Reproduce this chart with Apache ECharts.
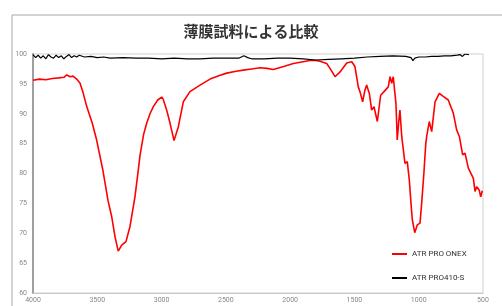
<!DOCTYPE html>
<html><head><meta charset="utf-8">
<script src="https://cdn.jsdelivr.net/npm/echarts@6/dist/echarts.min.js"></script>
<style>html,body{margin:0;padding:0;background:#fff}#c{width:502px;height:306px}</style>
</head><body><div id="c"></div>
<script>
const title = '薄膜試料による比較';
const seriesNames = ['ATR PRO ONEX', 'ATR PRO410-S'];
const xTicks = [4000, 3500, 3000, 2500, 2000, 1500, 1000, 500];
const yTicks = [60, 65, 70, 75, 80, 85, 90, 95, 100];

const wnRed = [4000,3950,3900,3850,3800,3760,3738,3710,3689,3660,3634,3610,3582,3540,3505,3456,3417,3388,3362,3337,3310,3277,3246,3207,3181,3168,3140,3116,3090,3064,3030,2999,2987,2960,2934,2903,2870,2831,2779,2701,2623,2550,2493,2420,2364,2350,2300,2234,2180,2131,2050,1975,1900,1846,1800,1768,1716,1690,1651,1612,1560,1521,1496,1470,1457,1436,1420,1405,1384,1366,1348,1322,1296,1270,1237,1223,1210,1198,1177,1167,1156,1146,1132,1107,1089,1073,1060,1050,1043,1031,1011,990,977,960,945,938,918,899,873,840,809,770,731,705,684,658,640,614,575,562,549,529,518,505];
const tRed = [95.6,95.8,95.7,95.9,96.0,96.1,96.5,96.2,96.3,95.8,95.1,93.5,91.2,88.5,85.6,80.5,75.5,72.8,69.4,67.0,68.0,68.6,71.1,76.1,80.6,83.0,86.5,88.4,90.0,91.2,92.3,92.8,92.4,90.6,88.4,85.5,87.8,92.0,93.7,94.8,95.8,96.4,96.8,97.1,97.3,97.1,97.5,97.7,97.6,97.4,97.9,98.4,98.7,98.9,98.9,98.8,98.4,97.6,96.2,97.0,98.5,98.7,97.9,94.5,93.7,92.0,93.8,94.8,93.4,90.6,91.2,88.7,93.1,93.7,94.5,96.2,95.1,96.2,91.7,85.6,88.5,90.6,86.2,81.7,82.0,78.9,75.0,72.3,72.6,70.1,71.4,71.7,75.0,80.0,85.0,86.2,88.7,87.0,92.0,93.4,92.9,92.3,90.1,87.3,86.2,83.1,83.4,80.9,79.2,77.0,77.8,77.2,76.1,77.1];

const wnBlack = [4000,3980,3960,3940,3920,3900,3880,3860,3840,3820,3800,3780,3760,3740,3720,3700,3680,3660,3640,3600,3550,3500,3450,3400,3300,3200,3100,3000,2900,2800,2700,2600,2500,2400,2360,2330,2300,2200,2100,2000,1900,1800,1700,1600,1500,1400,1300,1200,1100,1060,1045,1030,1000,950,900,850,800,750,700,680,660,640,625,610];
const tBlack = [99.9,99.4,99.8,99.3,99.7,99.2,99.9,99.5,99.3,99.8,99.4,99.7,99.2,99.6,99.9,99.4,99.7,99.5,99.8,99.5,99.6,99.4,99.5,99.3,99.4,99.3,99.3,99.2,99.3,99.2,99.2,99.3,99.3,99.3,99.7,99.4,99.2,99.2,99.3,99.3,99.2,99.0,99.1,99.2,99.3,99.5,99.6,99.7,99.6,99.4,98.9,99.3,99.5,99.5,99.6,99.6,99.7,99.7,99.8,99.9,99.6,100,99.7,99.9];

const chart = echarts.init(document.getElementById('c'), null, {renderer: 'canvas'});
chart.setOption({
  animation: false,
  backgroundColor: '#fff',
  textStyle: {fontFamily: 'Roboto, "Noto Sans CJK JP", sans-serif'},
  title: {
    text: title, left: 'center', top: 19,
    textStyle: {fontFamily: '"Noto Sans CJK JP", sans-serif', fontSize: 15, fontWeight: 'bold', color: '#333'}
  },
  graphic: [{
    type: 'rect', left: 9.5, top: 12.5, silent: true,
    shape: {width: 600, height: 400},
    style: {fill: 'none', stroke: '#a6a6a6', lineWidth: 1}
  }],
  grid: {left: 33, right: 19, top: 54, bottom: 13, show: true, borderColor: '#d0d0d0', borderWidth: 1, containLabel: false},
  legend: {
    orient: 'vertical', left: 387, top: 245, itemWidth: 15, itemHeight: 2, itemGap: 16,
    icon: 'rect',
    textStyle: {fontSize: 8, color: '#333', fontFamily: 'Roboto, sans-serif'},
    data: seriesNames
  },
  xAxis: {
    type: 'value', inverse: true, min: 500, max: 4000, interval: 500,
    axisLine: {show: true, lineStyle: {color: '#c8c8c8', width: 1}},
    axisTick: {show: false}, splitLine: {show: false},
    axisLabel: {fontSize: 7, color: '#888', margin: 4,
      formatter: v => xTicks.includes(v) ? String(v) : ''}
  },
  yAxis: {
    type: 'value', min: 60, max: 100, interval: 5,
    axisLine: {show: true, lineStyle: {color: '#a0a0a0', width: 2}},
    axisTick: {show: false}, splitLine: {show: false},
    axisLabel: {fontSize: 7, color: '#888', margin: 6,
      formatter: v => yTicks.includes(v) ? String(v) : ''}
  },
  series: [
    {name: seriesNames[0], type: 'line', showSymbol: false, symbol: 'none', color: '#ff0000',
     lineStyle: {width: 1.6, color: '#ff0000'},
     data: wnRed.map((w, i) => [w, tRed[i]])},
    {name: seriesNames[1], type: 'line', showSymbol: false, symbol: 'none', color: '#000000',
     lineStyle: {width: 1.2, color: '#000000'},
     data: wnBlack.map((w, i) => [w, tBlack[i]])}
  ]
});
</script></body></html>
